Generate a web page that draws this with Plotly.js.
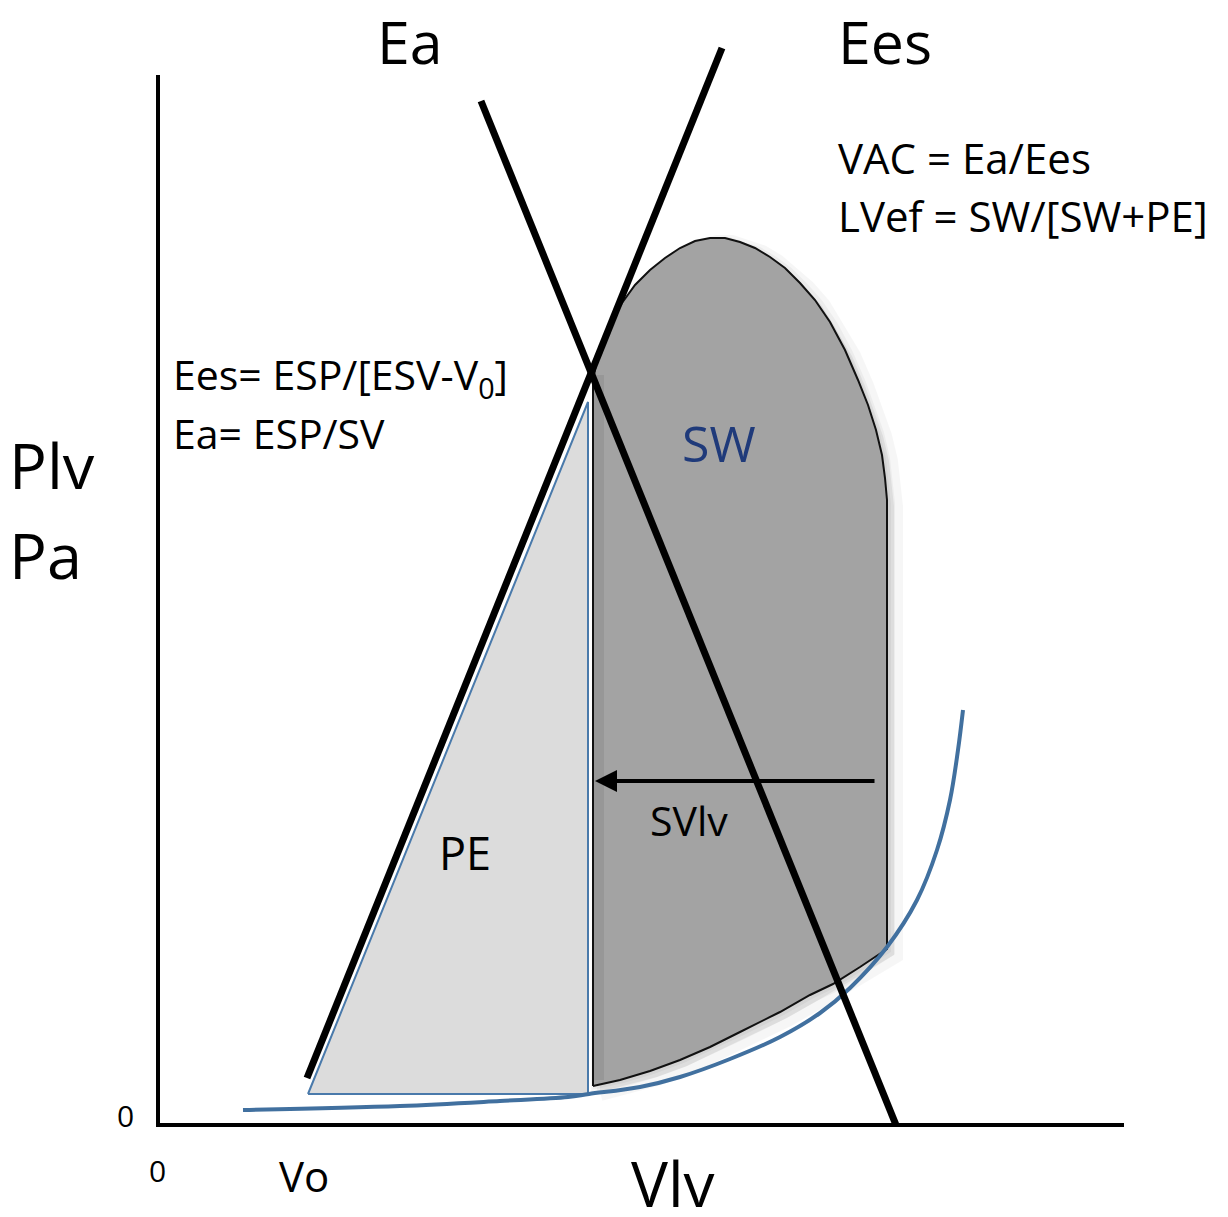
<!DOCTYPE html>
<html>
<head>
<meta charset="utf-8">
<script src="https://cdn.plot.ly/plotly-3.0.1.min.js"></script>
<style>html,body{margin:0;padding:0;background:#fff}#chart{width:1228px;height:1217px}</style>
</head>
<body>
<div id="chart"></div>
<script>
// Diagram units: volume (x) and pressure (y), origin at the axis corner
const axisV = [0, 0, 966];
const axisP = [1050, 0, 0];

const eesLineV = [149, 564];
const eesLineP = [47, 1077];

const eaLineV = [323, 738];
const eaLineP = [1024, 0];

const peV = [150, 430, 430, 150];
const peP = [31, 723, 31, 31];

// PV loop (stroke work area)
const loopV = [435, 435, 439, 445, 454, 464, 477, 492, 507, 522, 537, 552, 567, 582, 597, 612, 627, 642, 657, 672, 687, 700, 710, 718, 724, 727, 729, 729, 702, 675, 652, 622, 582, 552, 522, 492, 462, 435];
const loopP = [39, 745, 765, 785, 805, 822, 840, 855, 867, 877, 884, 887, 887, 883, 877, 868, 857, 842, 825, 803, 775, 745, 720, 695, 670, 647, 625, 176, 158, 141, 130, 113, 93, 78, 65, 54, 45, 39];

// End-diastolic pressure-volume relation
const edpvrV = [85, 242, 342, 410, 431, 482, 522, 572, 622, 662, 692, 729, 759, 779, 792, 800, 805];
const edpvrP = [15, 19, 24, 28, 31, 38, 48, 66, 88, 112, 137, 178, 225, 275, 325, 375, 415];

const arrowFrom = [718, 344];
const arrowTo = [437, 344];

const labels = [
  {t: 'Ea', v: 252, p: 1084, s: 59, a: 'center'},
  {t: 'Ees', v: 727, p: 1084, s: 59, a: 'center'},
  {t: 'VAC = Ea/Ees', v: 678, p: 968, s: 42, a: 'left'},
  {t: 'LVef = SW/[SW+PE]', v: 678, p: 910, s: 42, a: 'left'},
  {t: 'Ees= ESP/[ESV-V<sub>0</sub>]', v: 13, p: 749, s: 41, a: 'left'},
  {t: 'Ea= ESP/SV', v: 13, p: 692, s: 41, a: 'left'},
  {t: 'Plv', v: -151, p: 661, s: 63, a: 'left'},
  {t: 'Pa', v: -151, p: 571, s: 63, a: 'left'},
  {t: 'Vlv', v: 515, p: -58, s: 62, a: 'center'},
  {t: 'Vo', v: 146, p: -50, s: 42, a: 'center'},
  {t: '0', v: -1, p: -45, s: 30, a: 'center'},
  {t: '0', v: -33, p: 10, s: 30, a: 'center'},
  {t: 'PE', v: 307, p: 273, s: 45, a: 'center'},
  {t: 'SVlv', v: 531, p: 305, s: 41, a: 'center'}
];
const swLabel = {t: 'SW', v: 561, p: 682, s: 50};

const FONT = 'Open Sans, sans-serif';

const shadow1 = {x: loopV.map(v => v + 7), y: loopP.map(p => p - 6), mode: 'lines', line: {color: 'rgba(0,0,0,0.035)', width: 18}, fill: 'toself', fillcolor: 'rgba(0,0,0,0.06)', hoverinfo: 'skip'};
const shadow2 = {x: loopV.map(v => v + 4), y: loopP.map(p => p - 3), mode: 'lines', line: {color: 'rgba(0,0,0,0.04)', width: 8}, fill: 'toself', fillcolor: 'rgba(0,0,0,0.04)', hoverinfo: 'skip'};

const traces = [
  shadow1, shadow2,
  {x: peV, y: peP, mode: 'lines', fill: 'toself', fillcolor: '#dcdcdc', line: {color: '#4a7aab', width: 2}, hoverinfo: 'skip'},
  {x: loopV, y: loopP, mode: 'lines', fill: 'toself', fillcolor: '#a3a3a3', line: {color: '#111', width: 2}, hoverinfo: 'skip'},
  {x: [441, 441], y: [45, 750], mode: 'lines', line: {color: 'rgba(0,0,0,0.07)', width: 10}, hoverinfo: 'skip'},
  {x: edpvrV, y: edpvrP, mode: 'lines', line: {color: '#41709f', width: 4, shape: 'spline'}, hoverinfo: 'skip'},
  {x: eesLineV, y: eesLineP, mode: 'lines', line: {color: '#000', width: 7}, hoverinfo: 'skip'},
  {x: eaLineV, y: eaLineP, mode: 'lines', line: {color: '#000', width: 7}, hoverinfo: 'skip'},
  {x: axisV, y: axisP, mode: 'lines', line: {color: '#000', width: 4}, hoverinfo: 'skip'}
];

const annotations = labels.map(l => ({
  x: l.v, y: l.p, xref: 'x', yref: 'y', text: l.t, showarrow: false,
  xanchor: l.a, yanchor: 'middle', font: {family: FONT, size: l.s, color: '#000'}
}));
annotations.push({x: swLabel.v, y: swLabel.p, xref: 'x', yref: 'y', text: swLabel.t, showarrow: false,
  xanchor: 'center', yanchor: 'middle', font: {family: FONT, size: swLabel.s, color: '#1f3a7a'}});
annotations.push({x: arrowTo[0], y: arrowTo[1], ax: arrowFrom[0], ay: arrowFrom[1], axref: 'x', ayref: 'y',
  xref: 'x', yref: 'y', text: '', showarrow: true, arrowhead: 2, arrowsize: 1.1, arrowwidth: 4, arrowcolor: '#000'});

const layout = {
  width: 1228, height: 1217,
  margin: {l: 0, r: 0, t: 0, b: 0},
  paper_bgcolor: '#fff', plot_bgcolor: '#fff',
  showlegend: false,
  xaxis: {range: [-158, 1070], visible: false, fixedrange: true},
  yaxis: {range: [-92, 1125], visible: false, fixedrange: true},
  annotations: annotations
};

Plotly.newPlot('chart', traces, layout, {staticPlot: true});
</script>
</body>
</html>
